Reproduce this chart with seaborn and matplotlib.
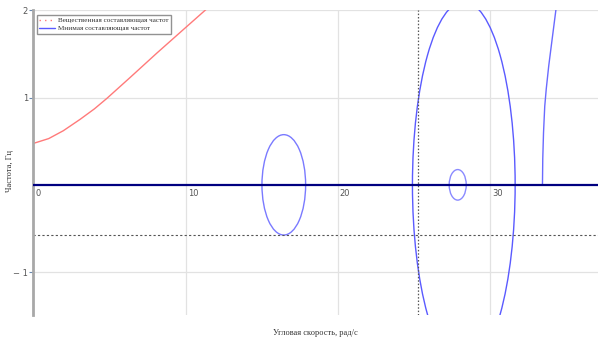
import matplotlib
matplotlib.use("Agg")
import matplotlib.pyplot as plt
import matplotlib.transforms as mtransforms
from matplotlib.patches import Ellipse
from matplotlib.lines import Line2D
import seaborn as sns
import pandas as pd

sns.set_theme(style="white")
plt.rcParams["font.family"] = ["Liberation Serif", "DejaVu Serif"]

# Real part of the frequency vs angular speed
real_speed = [0.0, 1.0, 1.96, 3.06, 4.0, 4.82, 6.35, 8.11, 9.92, 11.28, 11.6]
real_freq = [0.475, 0.53, 0.62, 0.75, 0.87, 0.99, 1.23, 1.51, 1.79, 2.0, 2.05]

# Imaginary part: closed loops (centre speed, centre freq, width, height)
loop_cx = [16.45, 27.88, 28.28]
loop_cy = [0.0, 0.0, 0.0]
loop_w = [2.87, 1.12, 6.75]
loop_h = [1.15, 0.35, 4.2]
loop_color = ["#7a7aff", "#8a8aff", "#5a5aff"]

# Imaginary part: branch leaving the axis on the right
branch_speed = [33.45, 33.47, 33.52, 33.60, 33.70, 33.86, 34.05, 34.33, 34.4]
branch_freq = [0.0, 0.3, 0.6, 0.9, 1.1, 1.36, 1.62, 2.0, 2.08]

# Reference markers
crit_speed = 25.25
crit_freq = -0.575

x_ticks = [0, 10, 20, 30]
y_ticks = [-1, 1, 2]
y_ticklabels = ["\u2212 1", "1", "2"]

fig = plt.figure(figsize=(5.98, 3.43), dpi=100)
ax = fig.add_axes([0.056, 0.082, 0.944, 0.888])

ax.set_xlim(0, 37.1)
ax.set_ylim(-1.49, 2.0)

real_df = pd.DataFrame({"speed": real_speed, "freq": real_freq})
branch_df = pd.DataFrame({"speed": branch_speed, "freq": branch_freq})

ax.grid(True, color="#e2e2e2", linewidth=0.9)
ax.set_axisbelow(True)

sns.lineplot(data=real_df, x="speed", y="freq", ax=ax, color="#ff7a7a",
             linewidth=1.0, sort=False, estimator=None)
for cx, cy, w, h, c in zip(loop_cx, loop_cy, loop_w, loop_h, loop_color):
    ax.add_patch(Ellipse((cx, cy), w, h, fill=False, edgecolor=c, linewidth=1.0))
sns.lineplot(data=branch_df, x="speed", y="freq", ax=ax, color="#6a6aff",
             linewidth=1.0, sort=False, estimator=None)

ax.axhline(0, color="#000080", linewidth=1.6, zorder=3)
ax.axvline(crit_speed, color="#555555", linestyle=(0, (1.2, 1.5)), linewidth=0.9)
ax.axhline(crit_freq, color="#555555", linestyle=(0, (2, 2)), linewidth=0.8)

for side in ["top", "right"]:
    ax.spines[side].set_visible(False)
ax.spines["left"].set_color("#a8a8a8")
ax.spines["left"].set_linewidth(2.0)
ax.spines["bottom"].set_position(("data", 0))
ax.spines["bottom"].set_visible(False)

ax.set_xticks(x_ticks)
ax.set_xticklabels([str(v) for v in x_ticks], ha="left", fontsize=6,
                   color="#555555", family="DejaVu Sans")
ax.tick_params(axis="x", length=0, pad=3)
offset = mtransforms.ScaledTranslation(2 / 100, 0, fig.dpi_scale_trans)
for lbl in ax.get_xticklabels():
    lbl.set_transform(lbl.get_transform() + offset)

ax.set_yticks(y_ticks)
ax.set_yticklabels(y_ticklabels, fontsize=6, color="#555555", family="DejaVu Sans")
ax.tick_params(axis="y", length=3, width=0.8, color="#6a8ab0", pad=1, left=True)

ax.set_xlabel("")
ax.set_ylabel("")
fig.text(0.528, 0.017, "Угловая скорость, рад/с", fontsize=6, color="#333333",
         ha="center", va="bottom")
fig.text(0.017, 0.50, "Частота, Гц", fontsize=6, color="#333333",
         ha="center", va="center", rotation=90)

handles = [
    Line2D([], [], color="#ff7a7a", linestyle=(0, (1, 3)), linewidth=1.0),
    Line2D([], [], color="#5a5aff", linewidth=1.0),
]
leg = ax.legend(handles, ["Вещественная составляющая частот",
                          "Мнимая составляющая частот"],
                loc="upper left", bbox_to_anchor=(0.003, 0.99), fontsize=5.1,
                frameon=True, fancybox=False, handlelength=2.2, handletextpad=0.5,
                borderpad=0.35, labelspacing=0.3, borderaxespad=0.2)
leg.get_frame().set_edgecolor("#777777")
leg.get_frame().set_linewidth(1.0)
for t in leg.get_texts():
    t.set_color("#333333")

fig.savefig("out.png", dpi=100)
